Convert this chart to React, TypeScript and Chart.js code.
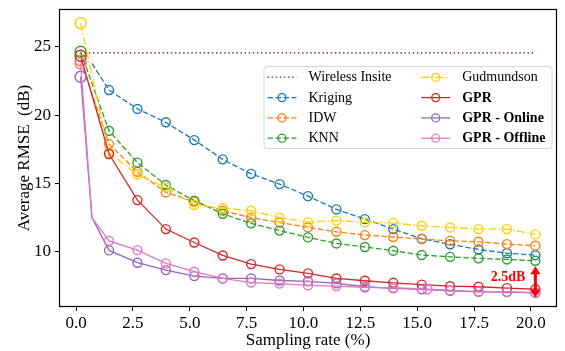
import React, { useEffect, useRef } from "react";
import { Chart, registerables } from "chart.js";
Chart.register(...registerables);

// ---------------- data ----------------
const seriesNames = ["Wireless Insite", "Kriging", "IDW", "KNN", "Gudmundson", "GPR", "GPR - Online", "GPR - Offline"];
const boldNames = ["GPR", "GPR - Online", "GPR - Offline"];

const sampleRates = [0.2, 1.45, 2.7, 3.95, 5.2, 6.45, 7.7, 8.95, 10.2, 11.45, 12.7, 13.95, 15.2, 16.45, 17.7, 18.95, 20.2];
const insiteRates = [0.2, 20.2];
const krigingRates = [0.7, 1.45, 2.7, 3.95, 5.2, 6.45, 7.7, 8.95, 10.2, 11.45, 12.7, 13.95, 15.2, 16.45, 17.7, 18.95, 20.2];
const onlineRates = [0.2, 0.7, 1.45, 2.7, 3.95, 5.2, 6.45, 7.7, 8.95, 10.2, 11.45, 12.7, 13.95, 15.2, 16.45, 17.7, 18.95, 20.2];
const offlineRates = [0.2, 0.7, 1.45, 2.7, 3.95, 5.2, 6.45, 7.7, 8.95, 10.2, 11.45, 12.7, 13.95, 15.45, 16.45, 17.7, 18.95, 20.2];
const unmarkedRates = [0.7]; // line vertices of the GPR online/offline curves drawn without a marker

const insiteRMSE = [24.55, 24.55];
const krigingRMSE = [23.78, 21.83, 20.45, 19.47, 18.17, 16.76, 15.7, 14.95, 14.07, 13.1, 12.39, 11.66, 10.95, 10.55, 10.17, 9.9, 9.75];
const idwRMSE = [24.0, 17.88, 15.85, 14.34, 13.65, 13.0, 12.5, 12.14, 11.78, 11.46, 11.22, 11.08, 10.93, 10.8, 10.73, 10.56, 10.44];
const knnRMSE = [24.63, 18.85, 16.52, 14.88, 13.74, 12.78, 12.08, 11.55, 11.05, 10.61, 10.35, 10.08, 9.76, 9.63, 9.52, 9.44, 9.34];
const gudmundsonRMSE = [26.72, 17.25, 15.65, 14.71, 13.42, 13.2, 13.0, 12.5, 12.17, 12.28, 12.15, 12.1, 11.9, 11.78, 11.66, 11.66, 11.27];
const gprRMSE = [24.34, 17.15, 13.78, 11.66, 10.68, 9.73, 9.1, 8.71, 8.42, 8.05, 7.88, 7.73, 7.6, 7.48, 7.44, 7.34, 7.26];
const gprOnlineRMSE = [22.8, 12.5, 10.1, 9.2, 8.66, 8.22, 8.05, 8.05, 7.9, 7.84, 7.69, 7.44, 7.32, 7.25, 7.15, 7.07, 7.05, 7.0];
const gprOfflineRMSE = [23.78, 12.5, 10.8, 10.12, 9.15, 8.54, 8.05, 7.75, 7.67, 7.54, 7.49, 7.39, 7.37, 7.26, 7.17, 7.09, 7.07, 7.02];

const xTickValues = [0, 2.5, 5, 7.5, 10, 12.5, 15, 17.5, 20];
const yTickValues = [10, 15, 20, 25];
const xRange = [-0.75, 21.15];
const yRange = [5.96, 27.76];

const gapLabel = "2.5dB";
const gapRate = 20.2;
const gapTop = 8.95;
const gapBottom = 6.65;
const gapLabelValue = 8.1;

const xTitle = "Sampling rate (%)";
const yTitle = "Average RMSE  (dB)";

// ---------------- styles ----------------
const FONT = "'Liberation Serif', 'Times New Roman', serif";
const colors = ["#8c564b", "#1f77b4", "#ff7f0e", "#2ca02c", "#ffd000", "#d62728", "#9467bd", "#e377c2"];
const dashes = [[1.5, 2.6], [5.5, 2.5], [5.5, 2.5], [5.5, 2.5], [8, 2.4, 1.5, 2.4], [], [], []];

const framePlugin = {
  id: "frame",
  afterDatasetsDraw(chart: any) {
    const { ctx, chartArea: a } = chart;
    ctx.save();
    ctx.strokeStyle = "#000";
    ctx.lineWidth = 1.2;
    ctx.strokeRect(Math.round(a.left) + 0.5, Math.round(a.top) + 0.5, Math.round(a.right - a.left) - 1, Math.round(a.bottom - a.top) - 1);
    ctx.restore();
  },
};

const annotationPlugin = {
  id: "gapAnnotation",
  afterDraw(chart: any) {
    const { ctx } = chart;
    const xs = chart.scales.x;
    const ys = chart.scales.y;
    const x = xs.getPixelForValue(gapRate);
    const y1 = ys.getPixelForValue(gapTop);
    const y2 = ys.getPixelForValue(gapBottom);
    ctx.save();
    ctx.strokeStyle = "#ff0000";
    ctx.fillStyle = "#ff0000";
    ctx.lineWidth = 3;
    const head = 8;
    ctx.beginPath();
    ctx.moveTo(x, y1 + head - 1);
    ctx.lineTo(x, y2 - head + 1);
    ctx.stroke();
    ctx.beginPath();
    ctx.moveTo(x, y1);
    ctx.lineTo(x - 5, y1 + head);
    ctx.lineTo(x + 5, y1 + head);
    ctx.closePath();
    ctx.fill();
    ctx.beginPath();
    ctx.moveTo(x, y2);
    ctx.lineTo(x - 5, y2 - head);
    ctx.lineTo(x + 5, y2 - head);
    ctx.closePath();
    ctx.fill();
    ctx.font = `bold 14px ${FONT}`;
    ctx.textAlign = "right";
    ctx.textBaseline = "middle";
    ctx.fillText(gapLabel, x - 10, ys.getPixelForValue(gapLabelValue));
    ctx.restore();
  },
};

const legendPlugin = {
  id: "twoColumnLegend",
  afterDraw(chart: any) {
    const { ctx, chartArea: a } = chart;
    const boxW = 288;
    const boxH = 82;
    const left = a.right - 5.5 - boxW;
    const top = a.top + 57;
    ctx.save();
    ctx.beginPath();
    (ctx as any).roundRect(left + 0.5, top + 0.5, boxW, boxH, 3);
    ctx.fillStyle = "rgba(255,255,255,0.8)";
    ctx.fill();
    ctx.strokeStyle = "#d6d6d6";
    ctx.lineWidth = 1;
    ctx.stroke();
    const ds = chart.data.datasets;
    const perCol = 4;
    ds.forEach((d: any, i: number) => {
      const col = Math.floor(i / perCol);
      const row = i % perCol;
      const hx = left + 4 + col * 153.7;
      const cy = top + 11.3 + row * 20.3;
      ctx.strokeStyle = d.borderColor;
      ctx.lineWidth = d.borderWidth;
      ctx.setLineDash(d.borderDash || []);
      ctx.beginPath();
      ctx.moveTo(hx, cy);
      ctx.lineTo(hx + 29, cy);
      ctx.stroke();
      ctx.setLineDash([]);
      if (d.legendMarker) {
        ctx.beginPath();
        ctx.arc(hx + 14.5, cy, 4, 0, Math.PI * 2);
        ctx.stroke();
      }
      const bold = boldNames.includes(d.label);
      ctx.fillStyle = "#000";
      ctx.font = `${bold ? "bold " : ""}14px ${FONT}`;
      ctx.textAlign = "left";
      ctx.textBaseline = "middle";
      ctx.fillText(d.label, hx + 41, cy + 0.5);
    });
    ctx.restore();
  },
};

export default function App() {
  const ref = useRef<HTMLCanvasElement>(null);
  useEffect(() => {
    document.body.style.margin = "0";
    const pts = (xs: number[], ys: number[]) => xs.map((x, i) => ({ x, y: ys[i] }));
    const radii = (xs: number[], marked: boolean) =>
      xs.map((x, i) => (!marked || unmarkedRates.includes(x) ? 0 : i === 0 ? 5.5 : 4.5));
    const series: [number[], number[], boolean][] = [
      [insiteRates, insiteRMSE, false],
      [krigingRates, krigingRMSE, true],
      [sampleRates, idwRMSE, true],
      [sampleRates, knnRMSE, true],
      [sampleRates, gudmundsonRMSE, true],
      [sampleRates, gprRMSE, true],
      [onlineRates, gprOnlineRMSE, true],
      [offlineRates, gprOfflineRMSE, true],
    ];
    const datasets = series.map(([xs, ys, marked], i) => ({
      label: seriesNames[i],
      data: pts(xs, ys),
      borderColor: colors[i],
      backgroundColor: colors[i],
      borderWidth: i === 0 ? 1.6 : 1.3,
      borderDash: dashes[i],
      pointRadius: radii(xs, marked),
      pointHoverRadius: 0,
      pointBorderWidth: 1.4,
      pointBorderColor: colors[i],
      pointBackgroundColor: "rgba(0,0,0,0)",
      tension: 0,
      fill: false,
      order: series.length - i,
      legendMarker: marked,
    }));
    const chart = new Chart(ref.current as HTMLCanvasElement, {
      type: "line",
      data: { datasets } as any,
      options: {
        animation: false,
        responsive: false,
        devicePixelRatio: 1,
        layout: { padding: { top: 9, right: 8, left: 0, bottom: 0 } },
        plugins: { legend: { display: false }, tooltip: { enabled: false } },
        scales: {
          x: {
            type: "linear",
            min: xRange[0],
            max: xRange[1],
            afterBuildTicks: (s: any) => {
              s.ticks = xTickValues.map((v) => ({ value: v }));
            },
            afterFit: (s: any) => {
              s.height = 44;
              s.paddingLeft = 0;
              s.paddingRight = 0;
              s.paddingTop = 0;
              s.paddingBottom = 0;
            },
            grid: { drawOnChartArea: false, drawTicks: true, tickLength: 4, tickColor: "#000", tickWidth: 1 },
            border: { display: false },
            ticks: {
              color: "#000",
              font: { family: FONT, size: 17 },
              padding: 2,
              maxRotation: 0,
              autoSkip: false,
              callback: (v: any) => Number(v).toFixed(1),
            },
            title: { display: true, text: xTitle, color: "#000", font: { family: FONT, size: 17 }, padding: { top: 0, bottom: 0 } },
          },
          y: {
            type: "linear",
            min: yRange[0],
            max: yRange[1],
            afterBuildTicks: (s: any) => {
              s.ticks = yTickValues.map((v) => ({ value: v }));
            },
            afterFit: (s: any) => {
              s.width = 59;
              s.paddingLeft = 0;
              s.paddingRight = 0;
              s.paddingTop = 0;
              s.paddingBottom = 0;
            },
            grid: { drawOnChartArea: false, drawTicks: true, tickLength: 4, tickColor: "#000", tickWidth: 1 },
            border: { display: false },
            ticks: {
              color: "#000",
              font: { family: FONT, size: 17 },
              padding: 4,
              autoSkip: false,
              callback: (v: any) => String(v),
            },
            title: { display: true, text: yTitle, color: "#000", font: { family: FONT, size: 17 }, padding: { top: 14, bottom: 0 } },
          },
        },
      },
      plugins: [framePlugin, legendPlugin, annotationPlugin],
    } as any);
    return () => chart.destroy();
  }, []);
  return (
    <div style={{ position: "absolute", left: 0, top: 0, width: 565, height: 351 }}>
      <canvas ref={ref} width={565} height={351} style={{ display: "block", width: 565, height: 351 }} />
    </div>
  );
}
